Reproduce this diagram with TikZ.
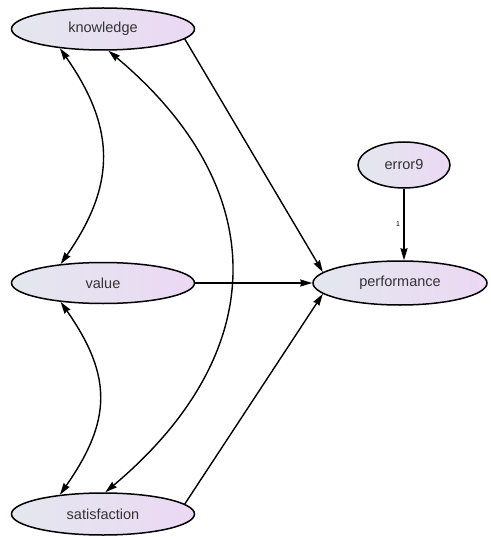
\documentclass[tikz,border=0pt]{standalone}
\usepackage{fontspec}
\setmainfont{Liberation Sans}
\usepackage{tikz}
\usetikzlibrary{shapes.geometric,arrows.meta}

\definecolor{leftfill}{HTML}{E3E7EE}
\definecolor{rightfill}{HTML}{ECD8F4}
\definecolor{labeltext}{HTML}{333333}

\begin{document}
\begin{tikzpicture}[x=1pt,y=-1pt,
			      latent/.style={ellipse, draw, line width=1.5pt, inner sep=0pt,
			        left color=leftfill, right color=rightfill, text=labeltext,
			        font=\fontsize{14.5}{17}\selectfont},
			      effect/.style={-{Stealth[length=12pt,width=7pt,inset=1pt]}, line width=1.4pt},
			      covar/.style={{Stealth[length=12pt,width=7pt,inset=1pt]}-{Stealth[length=12pt,width=7pt,inset=1pt]}, line width=1.4pt}]
		      \useasboundingbox (0,0) rectangle (490,537);
		      % variables
		      \node[latent, minimum width=183pt, minimum height=42pt] (knowledge) at (103,29) {knowledge};
		      \node[latent, minimum width=183pt, minimum height=41pt] (value) at (103,283) {value};
		      \node[latent, minimum width=183pt, minimum height=42pt] (satisfaction) at (103,514) {satisfaction};
		      \node[latent, minimum width=92pt, minimum height=46pt] (error9) at (404,165) {error9};
		      \node[latent, minimum width=174pt, minimum height=44pt] (performance) at (400,283) {performance};
		      % regressions
		      \draw[effect] (knowledge.353) -- (performance.172);
		      \draw[effect] (value.east) -- (performance.west);
		      \draw[effect] (satisfaction.7) -- (performance.188);
		      \draw[effect] (error9.south) -- node[left, font=\fontsize{7}{8}\selectfont] {1} (error9.south |- performance.north);
		      % covariances
		      \draw[covar] (knowledge.204) to[out=-55, in=55, looseness=1.15] (value.156);
		      \draw[covar] (value.204) to[out=-55, in=55, looseness=1.2] (satisfaction.156);
		      \draw[covar] (knowledge.284) to[out=-40, in=40, looseness=1.25] (satisfaction.84);
	      \end{tikzpicture}
\end{document}
